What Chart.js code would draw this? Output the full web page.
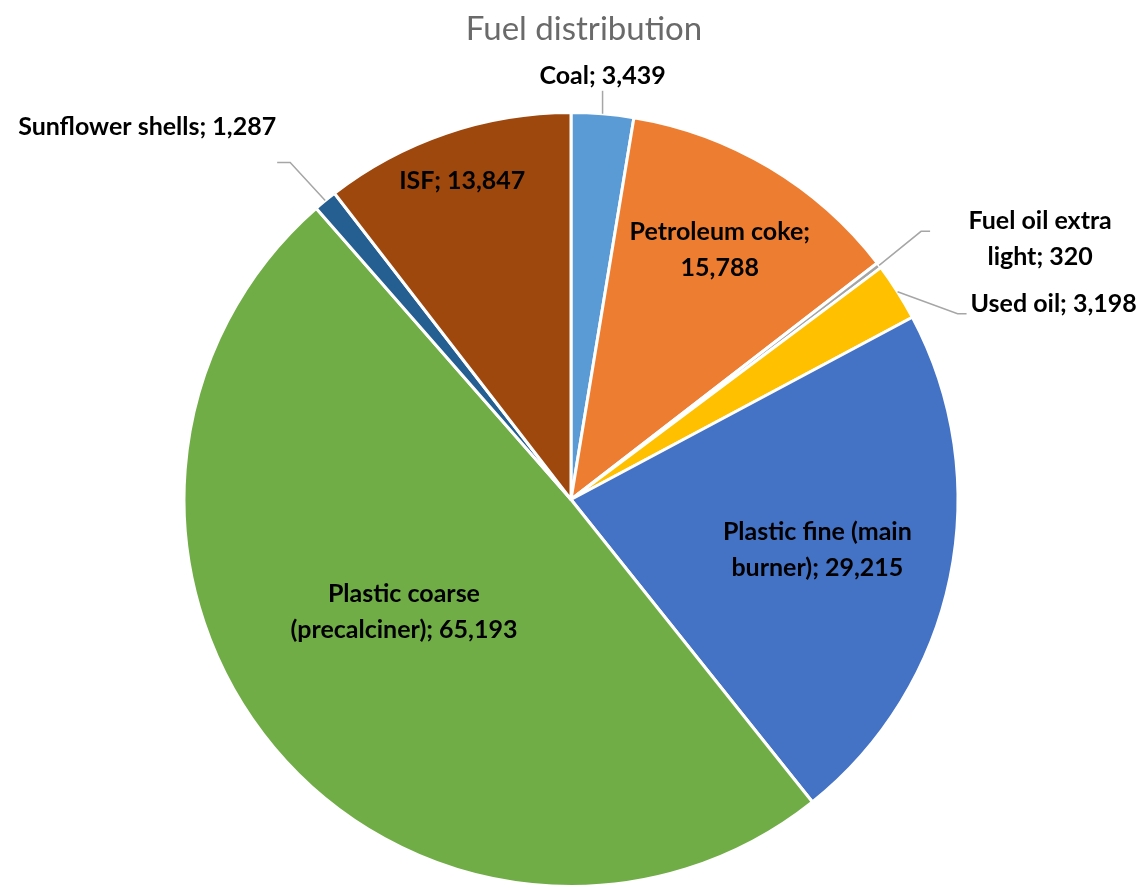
<!DOCTYPE html>
<html>
<head>
<meta charset="utf-8">
<script src="https://cdn.jsdelivr.net/npm/chart.js@4"></script>
<style>
  body { margin: 0; background: #fff; }
  #wrap { width: 1148px; height: 888px; }
</style>
</head>
<body>
<div id="wrap"><canvas id="fuelChart" width="1148" height="888"></canvas></div>
<script>
// data
const fuelNames = ['Coal', 'Petroleum coke', 'Fuel oil extra light', 'Used oil',
  'Plastic fine (main burner)', 'Plastic coarse (precalciner)', 'Sunflower shells', 'ISF'];
const fuelValues = [3439, 15788, 320, 3198, 29215, 65193, 1287, 13847];
const sliceColors = ['#5B9BD5', '#ED7D31', '#A5A5A5', '#FFC000', '#4472C4', '#70AD47', '#255E91', '#9E480E'];

// how each label is written (line breaks like the original)
const labelLines = [
  ['Coal; 3,439'],
  ['Petroleum coke;', '15,788'],
  ['Fuel oil extra', 'light; 320'],
  ['Used oil; 3,198'],
  ['Plastic fine (main', 'burner); 29,215'],
  ['Plastic coarse', '(precalciner); 65,193'],
  ['Sunflower shells; 1,287'],
  ['ISF; 13,847']
];

// inside labels: fraction of radius along mid angle
// outside labels: leader elbow (dx, dy), then horizontal run, then text offset
const placement = [
  { out: true, elbow: [0, -23], run: 0, text: [0, -15], align: 'center' },
  { out: false, frac: 0.75 },
  { out: true, elbow: [42, -34], run: 9, text: [110, 8], align: 'center' },
  { out: true, elbow: [60, 22], run: 9, text: [4, -10], align: 'left' },
  { out: false, frac: 0.65 },
  { out: false, frac: 0.52, shift: 6 },
  { out: true, elbow: [-35, -38], run: -13, text: [-130, -36], align: 'center' },
  { out: false, frac: 0.87 }
];

const LABEL_FONT = 'bold 25px Lato';
const LINE_H = 36;

const labelPlugin = {
  id: 'fuelLabels',
  afterDatasetsDraw(chart) {
    const ctx = chart.ctx;
    const arcs = chart.getDatasetMeta(0).data;
    ctx.save();
    // title
    ctx.fillStyle = '#6a6a6a';
    ctx.font = '33px Lato';
    ctx.textAlign = 'center';
    ctx.textBaseline = 'middle';
    ctx.fillText('Fuel distribution', 584, 29);

    ctx.font = LABEL_FONT;
    ctx.fillStyle = '#000';
    arcs.forEach((arc, i) => {
      const p = placement[i];
      const mid = (arc.startAngle + arc.endAngle) / 2 + (p.shift || 0) * Math.PI / 180;
      const lines = labelLines[i];
      let cx, cy;
      if (p.out) {
        const ex = arc.x + Math.cos(mid) * arc.outerRadius;
        const ey = arc.y + Math.sin(mid) * arc.outerRadius;
        const kx = ex + p.elbow[0], ky = ey + p.elbow[1];
        const lx = kx + p.run;
        ctx.strokeStyle = '#a6a6a6';
        ctx.lineWidth = 1.5;
        ctx.beginPath();
        ctx.moveTo(ex, ey);
        ctx.lineTo(kx, ky);
        ctx.lineTo(lx, ky);
        ctx.stroke();
        cx = lx + p.text[0];
        cy = ky + p.text[1];
        ctx.textAlign = p.align;
      } else {
        const r = arc.outerRadius * p.frac;
        cx = arc.x + Math.cos(mid) * r;
        cy = arc.y + Math.sin(mid) * r;
        ctx.textAlign = 'center';
      }
      const top = cy - (lines.length - 1) * LINE_H / 2;
      lines.forEach((t, j) => ctx.fillText(t, cx, top + j * LINE_H));
    });
    ctx.restore();
  }
};

new Chart(document.getElementById('fuelChart'), {
  type: 'pie',
  data: {
    labels: fuelNames,
    datasets: [{
      data: fuelValues,
      backgroundColor: sliceColors,
      borderColor: '#ffffff',
      borderWidth: 3,
      hoverOffset: 0
    }]
  },
  options: {
    responsive: false,
    animation: false,
    layout: { padding: { top: 111, bottom: 0, left: 0, right: 6 } },
    plugins: {
      legend: { display: false },
      title: { display: false },
      tooltip: { enabled: false }
    }
  },
  plugins: [labelPlugin]
});
</script>
</body>
</html>
